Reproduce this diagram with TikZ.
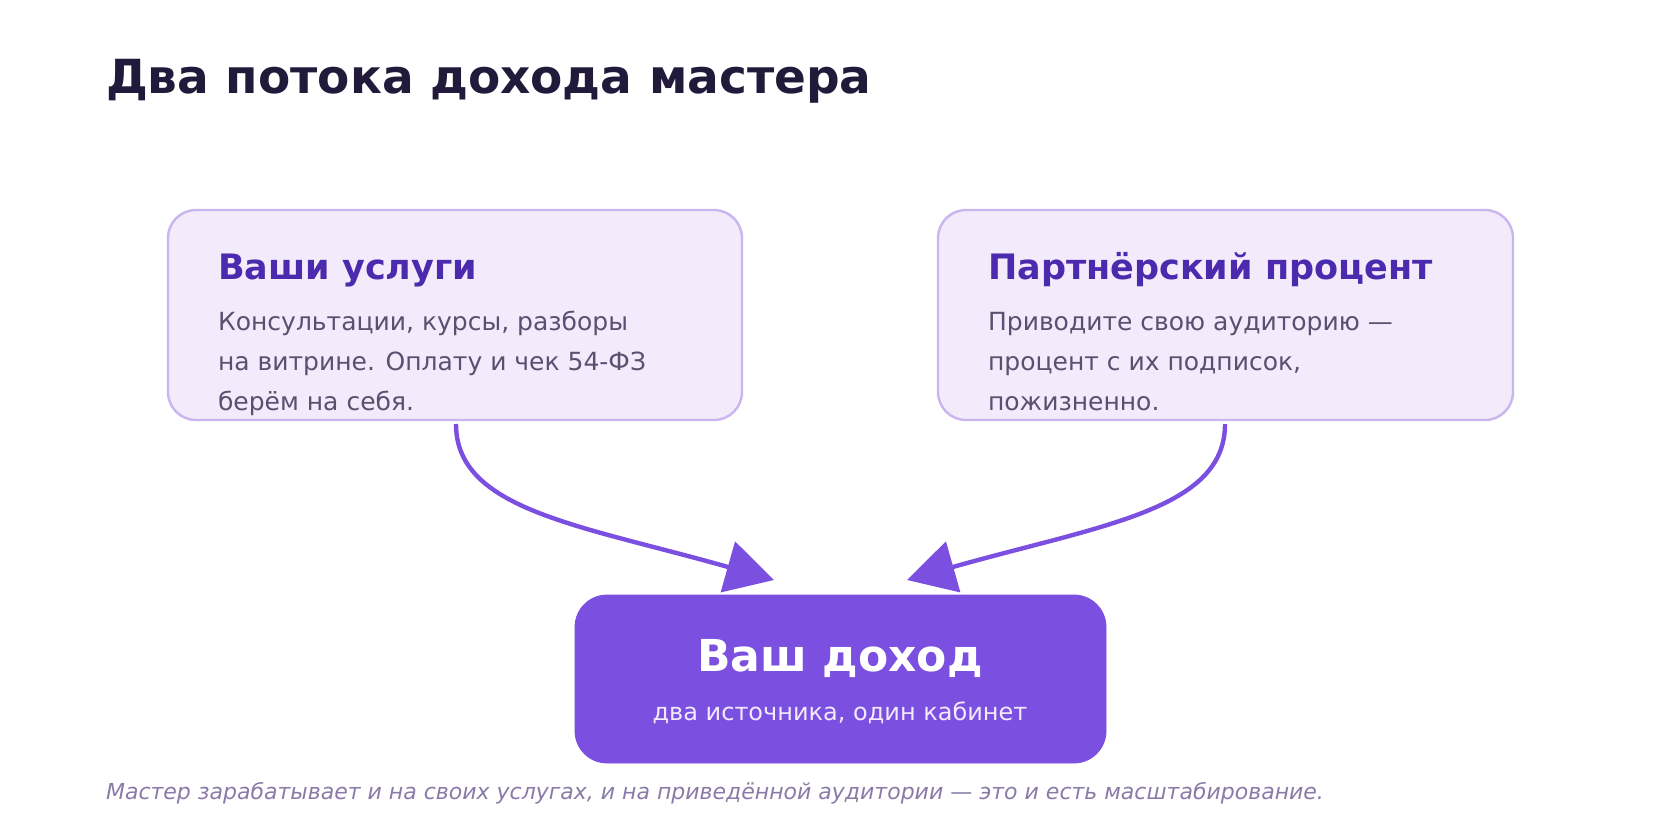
\documentclass[tikz,border=0pt]{standalone}
\usepackage{fontspec}
\setmainfont{DejaVu Sans}
\usetikzlibrary{arrows.meta}
\definecolor{boxfill}{HTML}{F3EAFB}
\definecolor{boxdraw}{HTML}{C9B5EF}
\definecolor{ttl}{HTML}{4B2AAD}
\definecolor{body}{HTML}{5A5070}
\definecolor{acc}{HTML}{7B4FE0}
\definecolor{dark}{HTML}{221A3A}
\definecolor{foot}{HTML}{8A7AA8}
\begin{document}
\begin{tikzpicture}[x=0.5pt,y=-0.5pt,
  card/.style={draw=boxdraw,line width=1.2pt,fill=boxfill,rounded corners=14pt},
  ctitle/.style={anchor=base west,text=ttl,font=\bfseries\fontsize{17.5}{20}\selectfont},
  cbody/.style={anchor=base west,text=body,font=\fontsize{12.5}{20}\selectfont},
  arr/.style={draw=acc,line width=2.2pt,-{Triangle[length=24pt,width=26pt]}}]
\useasboundingbox (0,0) rectangle (1680,840);
\node[anchor=base west,text=dark,font=\bfseries\fontsize{23.5}{28}\selectfont] (t) at (99,94) {Два потока дохода мастера};
\draw[card] (168,210) rectangle (742,420);
\draw[card] (938,210) rectangle (1513,420);
\node[ctitle] (a) at (211,279) {Ваши услуги};
\node[cbody] (a1) at (211,330) {Консультации, курсы, разборы};
\node[cbody] (a2) at (211,370) {на витрине. Оплату и чек 54-ФЗ};
\node[cbody] (a3) at (211,410) {берём на себя.};
\node[ctitle] (b) at (981,279) {Партнёрский процент};
\node[cbody] (b1) at (981,330) {Приводите свою аудиторию —};
\node[cbody] (b2) at (981,370) {процент с их подписок,};
\node[cbody] (b3) at (981,410) {пожизненно.};
\draw[fill=acc,draw=acc,rounded corners=16pt] (575,595) rectangle (1106,763);
\node[anchor=base,text=white,font=\bfseries\fontsize{22}{26}\selectfont] (c) at (840,671) {Ваш доход};
\node[anchor=base,text=boxfill,font=\fontsize{12}{15}\selectfont] (c2) at (840,720) {два источника, один кабинет};
\node[anchor=base west,text=foot,font=\itshape\fontsize{11}{14}\selectfont] (f) at (99,799) {Мастер зарабатывает и на своих услугах, и на приведённой аудитории — это и есть масштабирование.};
\coordinate (s1) at (456,424); \coordinate (e1) at (774,580);
\coordinate (s2) at (1225,424); \coordinate (e2) at (907,580);
\draw[arr] (s1) .. controls (456,510) and (580,525) .. (e1);
\draw[arr] (s2) .. controls (1225,510) and (1101,525) .. (e2);
\end{tikzpicture}
\end{document}
